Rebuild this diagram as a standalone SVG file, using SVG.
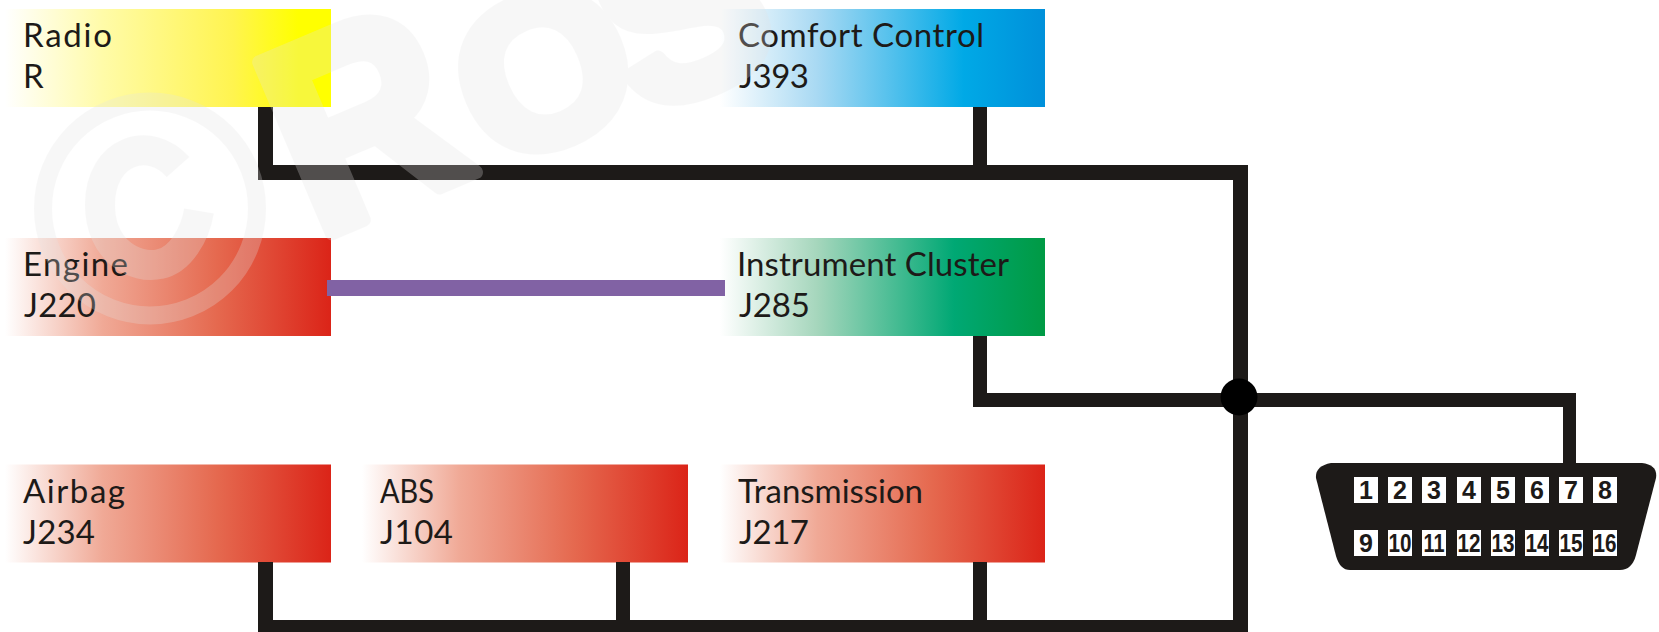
<svg xmlns="http://www.w3.org/2000/svg" width="1659" height="632" viewBox="0 0 1659 632">
<style>
.lbl{font-family:Lato,"Liberation Sans",sans-serif;font-size:33px;fill:#1d1a18}
.wire{fill:#1d1a18}
.pin{fill:#fff}
.num{font-family:"Liberation Sans",Arial,sans-serif;font-weight:700;font-size:25px;fill:#1d1a18;text-anchor:middle}
.wm{font-family:"Liberation Sans",Arial,sans-serif;font-weight:700;fill:#e4e4e4;stroke:#e4e4e4;stroke-width:14;stroke-linejoin:round}
</style>
<defs>
<linearGradient id="red"><stop offset="0" stop-color="#fff"/><stop offset=".3" stop-color="#f0a996"/><stop offset=".65" stop-color="#e5694f"/><stop offset="1" stop-color="#db2418"/></linearGradient>
<linearGradient id="yellow"><stop offset="0" stop-color="#fff"/><stop offset=".3" stop-color="#fffba8"/><stop offset=".7" stop-color="#fff44f"/><stop offset=".9" stop-color="#ffff00"/><stop offset="1" stop-color="#ffff00"/></linearGradient>
<linearGradient id="green"><stop offset="0" stop-color="#fff"/><stop offset=".3" stop-color="#a5d6bc"/><stop offset=".72" stop-color="#00a874"/><stop offset="1" stop-color="#009a44"/></linearGradient>
<linearGradient id="blue"><stop offset="0" stop-color="#fff"/><stop offset=".3" stop-color="#a8d9f3"/><stop offset=".75" stop-color="#00a9e6"/><stop offset="1" stop-color="#0090da"/></linearGradient>
</defs>
<rect width="1659" height="632" fill="#fff"/>
<g id="radio"><rect x="5" y="9" width="326" height="98" fill="url(#yellow)"/><text class="lbl" x="23" y="47" textLength="89">Radio</text><text class="lbl" x="23" y="88" textLength="19">R</text></g>
<g id="comfort"><rect x="720" y="9" width="325" height="98" fill="url(#blue)"/><text class="lbl" x="738" y="47" textLength="246">Comfort Control</text><text class="lbl" x="739" y="88" textLength="70">J393</text></g>
<g id="engine"><rect x="5" y="238" width="326" height="98" fill="url(#red)"/><text class="lbl" x="23" y="276" textLength="105">Engine</text><text class="lbl" x="24" y="317" textLength="72">J220</text></g>
<g id="cluster"><rect x="720" y="238" width="325" height="98" fill="url(#green)"/><text class="lbl" x="737" y="276" textLength="272">Instrument Cluster</text><text class="lbl" x="739" y="317" textLength="71">J285</text></g>
<g id="airbag"><rect x="5" y="464.500" width="326" height="98" fill="url(#red)"/><text class="lbl" x="23" y="503" textLength="102">Airbag</text><text class="lbl" x="23" y="544" textLength="72">J234</text></g>
<g id="abs"><rect x="362" y="464.500" width="326" height="98" fill="url(#red)"/><text class="lbl" x="380" y="503" textLength="54" lengthAdjust="spacingAndGlyphs">ABS</text><text class="lbl" x="380" y="544" textLength="73">J104</text></g>
<g id="transmission"><rect x="720" y="464.500" width="325" height="98" fill="url(#red)"/><text class="lbl" x="738" y="503" textLength="185">Transmission</text><text class="lbl" x="739" y="544" textLength="70">J217</text></g>
<g id="connectors">
<rect class="wire" x="258" y="107" width="15" height="73"/>
<rect class="wire" x="258" y="165" width="990" height="15"/>
<rect class="wire" x="973" y="107" width="14" height="63"/>
<rect class="wire" x="1233" y="165" width="15" height="467"/>
<rect class="wire" x="973" y="336" width="14" height="71"/>
<rect class="wire" x="973" y="393" width="603" height="14"/>
<rect class="wire" x="1563" y="393" width="13" height="72"/>
<rect class="wire" x="258" y="562" width="15" height="70"/>
<rect class="wire" x="616" y="562" width="14" height="70"/>
<rect class="wire" x="973" y="562" width="14" height="70"/>
<rect class="wire" x="258" y="620" width="990" height="12"/>
<rect x="327" y="280" width="398" height="16" fill="#8162a4"/>
<circle cx="1239" cy="397" r="18.500" fill="#000"/>
</g>
<g id="obd-connector">
<path d="M1331 463H1642Q1658 465 1656 478L1636 555Q1632 570 1620 570H1350Q1340 570 1336 556L1316 478Q1315 466 1331 463Z" fill="#1d1a18"/>
<g>
<rect class="pin" x="1354" y="477" width="24" height="26"/><rect class="pin" x="1388" y="477" width="24" height="26"/><rect class="pin" x="1422" y="477" width="24" height="26"/><rect class="pin" x="1457" y="477" width="24" height="26"/><rect class="pin" x="1491" y="477" width="24" height="26"/><rect class="pin" x="1525" y="477" width="24" height="26"/><rect class="pin" x="1559" y="477" width="24" height="26"/><rect class="pin" x="1593" y="477" width="24" height="26"/>
<rect class="pin" x="1354" y="530" width="24" height="26"/><rect class="pin" x="1388" y="530" width="24" height="26"/><rect class="pin" x="1422" y="530" width="24" height="26"/><rect class="pin" x="1457" y="530" width="24" height="26"/><rect class="pin" x="1491" y="530" width="24" height="26"/><rect class="pin" x="1525" y="530" width="24" height="26"/><rect class="pin" x="1559" y="530" width="24" height="26"/><rect class="pin" x="1593" y="530" width="24" height="26"/>
</g>
<g>
<text class="num" x="1366" y="499">1</text><text class="num" x="1400" y="499">2</text><text class="num" x="1434" y="499">3</text><text class="num" x="1469" y="499">4</text><text class="num" x="1503" y="499">5</text><text class="num" x="1537" y="499">6</text><text class="num" x="1571" y="499">7</text><text class="num" x="1605" y="499">8</text>
<text class="num" x="1366" y="552">9</text><text class="num" x="1400" y="552" textLength="23" lengthAdjust="spacingAndGlyphs">10</text><text class="num" x="1434" y="552" textLength="21" lengthAdjust="spacingAndGlyphs">11</text><text class="num" x="1469" y="552" textLength="23" lengthAdjust="spacingAndGlyphs">12</text><text class="num" x="1503" y="552" textLength="23" lengthAdjust="spacingAndGlyphs">13</text><text class="num" x="1537" y="552" textLength="23" lengthAdjust="spacingAndGlyphs">14</text><text class="num" x="1571" y="552" textLength="23" lengthAdjust="spacingAndGlyphs">15</text><text class="num" x="1605" y="552" textLength="23" lengthAdjust="spacingAndGlyphs">16</text>
</g>
</g>
<g id="watermark" opacity=".26">
<circle cx="150" cy="208.500" r="107" fill="none" stroke="#e4e4e4" stroke-width="18"/>
<path d="M178 167C150 135 100 150 100 205C100 250 135 270 160 264C180 260 195 235 199 211" fill="none" stroke="#e4e4e4" stroke-width="30"/>
<text class="wm" transform="translate(316 240) rotate(-23) scale(.92 1)" font-size="270">R</text>
<text class="wm" transform="translate(493 171) rotate(-23) scale(1.05 1)" font-size="210">O</text>
<text class="wm" transform="translate(640 118) rotate(-23)" font-size="240">S</text>
</g>
</svg>
